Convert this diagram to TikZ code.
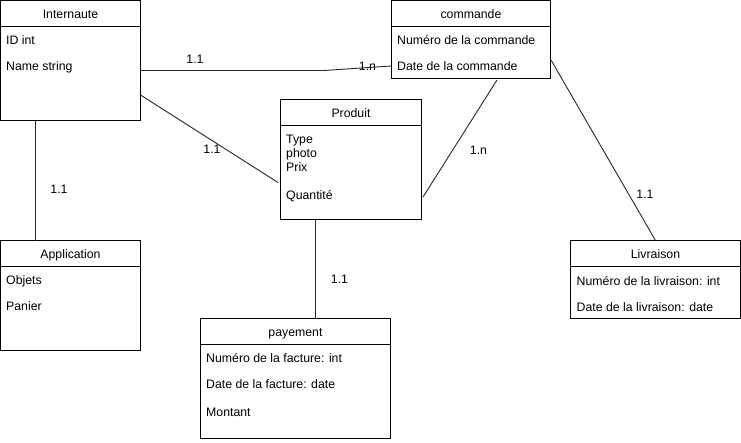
\documentclass[tikz,border=0pt]{standalone}
\usepackage{fontspec}
\setmainfont{Liberation Sans}
\begin{document}
\begin{tikzpicture}[x=1pt,y=-1pt,
  box/.style={draw, line width=1pt, inner sep=0pt, outer sep=0pt, anchor=north west},
  sep/.style={line width=1pt},
  txt/.style={font=\fontsize{12.3}{14}\selectfont, inner sep=0pt},
  title/.style={txt, anchor=base},
  attr/.style={txt, anchor=base west},
  card/.style={txt, anchor=base},
  link/.style={draw, line width=0.9pt, color=black!85}]
\useasboundingbox (0,0) rectangle (741,442);

% entity boxes
\node[box, minimum width=140pt, minimum height=120pt] (inter) at (0.5,0.5) {};
\node[box, minimum width=159pt, minimum height=78pt] (cmd) at (391.5,0.5) {};
\node[box, minimum width=141pt, minimum height=120pt] (prod) at (280.5,99.5) {};
\node[box, minimum width=140pt, minimum height=110pt] (app) at (0.5,240.5) {};
\node[box, minimum width=190pt, minimum height=120pt] (pay) at (200.5,318.5) {};
\node[box, minimum width=170pt, minimum height=78pt] (liv) at (570.5,240.5) {};

% header separators
\draw[sep] (0.5,26.5) -- (140.5,26.5);
\draw[sep] (391.5,26.5) -- (550.5,26.5);
\draw[sep] (280.5,125.5) -- (421.5,125.5);
\draw[sep] (0.5,266.5) -- (140.5,266.5);
\draw[sep] (200.5,344.5) -- (390.5,344.5);
\draw[sep] (570.5,266.5) -- (740.5,266.5);

% texts
\node[title] (tinter) at (70.5,18) {Internaute};
\node[attr] (a1) at (6,44) {ID int};
\node[attr] (a2) at (6,70) {Name string};

\node[title] (tcmd) at (471,18) {commande};
\node[attr] (c1) at (397,44) {Numéro de la commande};
\node[attr] (c2) at (397,70) {Date de la commande};

\node[title] (tprod) at (351,117) {Produit};
\node[attr] (p1) at (286,143) {Type};
\node[attr] (p2) at (286,157) {photo};
\node[attr] (p3) at (286,171) {Prix};
\node[attr] (p4) at (286,199) {Quantité};

\node[title] (tapp) at (70.5,258) {Application};
\node[attr] (ap1) at (6,284) {Objets};
\node[attr] (ap2) at (6,310) {Panier};

\node[title] (tpay) at (295.5,336) {payement};
\node[attr] (py1) at (206,362) {Numéro de la facture: int};
\node[attr] (py2) at (206,388.5) {Date de la facture: date};
\node[attr] (py3) at (206,416) {Montant};

\node[title] (tliv) at (655.5,258.5) {Livraison};
\node[attr] (l1) at (576.5,285) {Numéro de la livraison: int};
\node[attr] (l2) at (576.5,311) {Date de la livraison: date};

% connector end points
\coordinate (e1a) at (140.5,70.5);
\coordinate (e1k) at (324,70.5);
\coordinate (e1b) at (391,66);
\coordinate (e2a) at (140.5,95);
\coordinate (e2b) at (278,182.5);
\coordinate (e3a) at (35.5,120.5);
\coordinate (e3b) at (35.5,240.5);
\coordinate (e4a) at (315.5,219.5);
\coordinate (e4b) at (315.5,318.5);
\coordinate (e5a) at (497,80);
\coordinate (e5b) at (423,197);
\coordinate (e6a) at (551,60);
\coordinate (e6b) at (655.5,240.5);

% connectors
\draw[link] (e1a) -- (e1k) -- (e1b);
\draw[link] (e2a) -- (e2b);
\draw[link] (e3a) -- (e3b);
\draw[link] (e4a) -- (e4b);
\draw[link] (e5a) -- (e5b);
\draw[link] (e6a) -- (e6b);

% cardinalities
\node[card] (k1) at (195,63) {1.1};
\node[card] (k2) at (367.5,70) {1.n};
\node[card] (k3) at (212,153) {1.1};
\node[card] (k4) at (59,193) {1.1};
\node[card] (k5) at (339.5,283) {1.1};
\node[card] (k6) at (478.5,154) {1.n};
\node[card] (k7) at (645,198) {1.1};
\end{tikzpicture}
\end{document}
